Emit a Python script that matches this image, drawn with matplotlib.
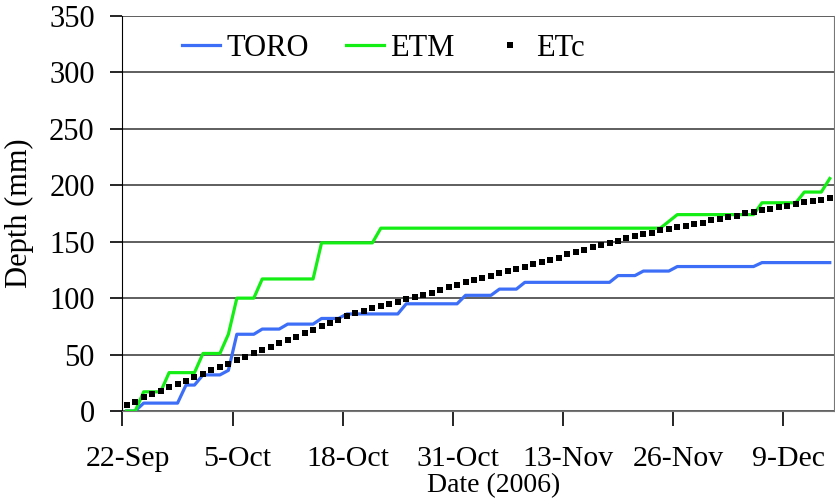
import matplotlib.pyplot as plt
import matplotlib.transforms as mtransforms
import numpy as np

plt.rcParams['font.family'] = ['Liberation Serif', 'DejaVu Serif']

# daily values from 22-Sep-2006 (one value per day)
toro = [0, 0, 7, 7, 7, 7, 7, 23, 23, 32, 32, 32, 36, 68, 68, 68, 72.6, 72.6, 72.6, 77,
        77, 77, 77, 82, 82, 82, 86, 86, 86, 86, 86, 86, 86, 95, 95, 95, 95, 95, 95, 95,
        102.5, 102.5, 102.5, 102.5, 108, 108, 108, 114, 114, 114, 114, 114, 114, 114, 114, 114,
        114, 114, 120, 120, 120, 124, 124, 124, 124, 128, 128, 128, 128, 128, 128, 128, 128, 128,
        128, 131.5, 131.5, 131.5, 131.5, 131.5, 131.5, 131.5, 131.5, 131.5]
etm = [0, 0, 17, 17, 17, 34, 34, 34, 34, 51, 51, 51, 68, 100, 100, 100, 117, 117, 117, 117,
       117, 117, 117, 149, 149, 149, 149, 149, 149, 149, 162, 162, 162, 162, 162, 162, 162, 162,
       162, 162, 162, 162, 162, 162, 162, 162, 162, 162, 162, 162, 162, 162, 162, 162, 162, 162,
       162, 162, 162, 162, 162, 162, 162, 162, 168, 174, 174, 174, 174, 174, 174, 174, 174, 174,
       174, 184.5, 184.5, 184.5, 184.5, 184.5, 194, 194, 194, 206]
etc = [5, 8, 12, 15, 18, 21, 24, 27, 30, 33, 36, 39, 42, 45, 48, 51, 54, 57, 60, 63,
       66, 69, 72, 75, 78, 81, 84, 87, 89, 91, 93, 95, 97, 99, 101, 103, 105, 107, 110, 112,
       114, 116, 118, 120, 122, 124, 126, 128, 130, 132, 134, 136, 139, 141, 143, 145, 147, 149,
       151, 153, 155, 157, 158, 160, 161, 163, 164, 166, 167, 169, 170, 172, 173, 175, 176, 178,
       179, 181, 182, 183, 185, 186, 187, 189]
tick_labels = ['22-Sep', '5-Oct', '18-Oct', '31-Oct', '13-Nov', '26-Nov', '9-Dec']

days = np.arange(len(etc)) + 0.5   # points sit between the daily tick marks

fig = plt.figure(figsize=(8.35, 5.04), dpi=100)
ax = fig.add_axes([0.1467, 0.1845, 0.8521, 0.7838])

ax.plot(days, toro, color='#3d6ef7', lw=2.3, label='TORO')
ax.plot(days, etm, color='#14ee14', lw=2.3, label='ETM')
ax.plot(days, etc, ls='none', marker='s', ms=4.6, mew=0, color='black', label='ETc')

ax.set_xlim(0, 84)
ax.set_ylim(0, 350)
ax.set_xticks(np.arange(len(tick_labels)) * 13)
ax.set_xticklabels(tick_labels)
ax.set_yticks(np.arange(0, 351, 50))
ax.yaxis.grid(True, color='#333333', lw=1.1)
ax.set_axisbelow(True)

ax.tick_params(axis='x', direction='out', length=11, width=1.2, pad=14, labelsize=21.5)
ax.tick_params(axis='y', direction='out', length=9, width=1.2, pad=11, labelsize=22)
for s in ['top', 'right', 'bottom']:
    ax.spines[s].set_color('#777777')
ax.spines['left'].set_color('black')
ax.spines['top'].set_visible(False)

# date labels sit a little right of their ticks
shift = mtransforms.ScaledTranslation(0.05, 0, fig.dpi_scale_trans)
for lab in ax.get_xticklabels():
    lab.set_transform(lab.get_transform() + shift)

ax.set_xlabel('Date (2006)', fontsize=20)
ax.xaxis.set_label_coords(0.522, -0.158)
ax.set_ylabel('Depth (mm)', fontsize=22)
ax.yaxis.set_label_coords(-0.125, 0.5)

fig.legend(loc='center left', bbox_to_anchor=(0.218, 0.904), ncol=3, frameon=False,
           fontsize=22, handlelength=1.25, handletextpad=0.22, columnspacing=1.18,
           borderpad=0, borderaxespad=0, numpoints=1)

fig.savefig('out.png', dpi=100)
